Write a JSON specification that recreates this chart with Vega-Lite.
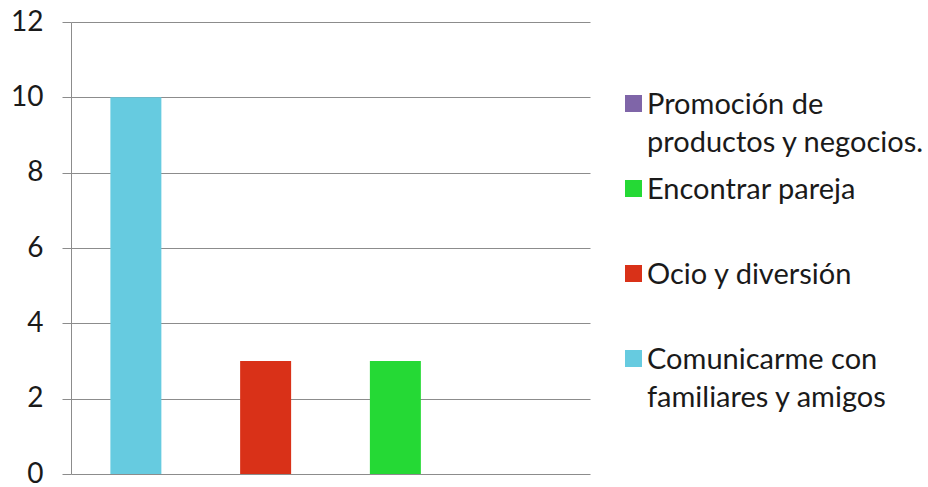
{
  "$schema": "https://vega.github.io/schema/vega-lite/v6.json",
  "width": 519,
  "height": 452,
  "autosize": {"type": "none"},
  "padding": {"left": 71, "top": 22, "right": 338, "bottom": 13},
  "background": "white",
  "config": {"view": {"stroke": null}, "font": "Lato"},
  "data": {
    "values": [
      {"cat": "Comunicarme con familiares y amigos", "valor": 10},
      {"cat": "Ocio y diversión", "valor": 3},
      {"cat": "Encontrar pareja", "valor": 3},
      {"cat": "Promoción de productos y negocios.", "valor": 0}
    ]
  },
  "mark": {"type": "bar"},
  "encoding": {
    "x": {
      "field": "cat",
      "type": "nominal",
      "sort": ["Comunicarme con familiares y amigos", "Ocio y diversión", "Encontrar pareja", "Promoción de productos y negocios."],
      "scale": {"paddingInner": 0.607, "paddingOuter": 0.3035},
      "axis": {"labels": false, "ticks": false, "title": null, "domain": false}
    },
    "y": {
      "field": "valor",
      "type": "quantitative",
      "scale": {"domain": [0, 12], "nice": false},
      "axis": {
        "title": null,
        "values": [0, 2, 4, 6, 8, 10, 12],
        "grid": true,
        "gridColor": "#8c8c8c",
        "gridOpacity": 1,
        "gridWidth": 1,
        "domainColor": "#8c8c8c",
        "tickColor": "#8c8c8c",
        "tickSize": 9,
        "labelFontSize": 28,
        "labelColor": "#1a1a1a",
        "labelPadding": 19,
        "labelFont": "Lato"
      }
    },
    "color": {
      "field": "cat",
      "type": "nominal",
      "scale": {
        "domain": ["Promoción de productos y negocios.", "Encontrar pareja", "Ocio y diversión", "Comunicarme con familiares y amigos"],
        "range": ["#7f65a8", "#25d935", "#d93118", "#66cbe0"]
      },
      "legend": {
        "title": null,
        "orient": "none",
        "legendX": 548,
        "legendY": 67,
        "gridAlign": "all",
        "symbolType": "square",
        "symbolSize": 289,
        "symbolStrokeWidth": 0,
        "labelFontSize": 29,
        "labelFont": "Lato",
        "labelColor": "#1a1a1a",
        "labelOffset": -1,
        "labelLimit": 400,
        "labelBaseline": "alphabetic",
        "labelExpr": "datum.label == 'Promoción de productos y negocios.' ? ['Promoción de', 'productos y negocios.'] : datum.label == 'Comunicarme con familiares y amigos' ? ['Comunicarme con', 'familiares y amigos'] : datum.label",
        "rowPadding": 16,
        "encode": {
          "labels": {"update": {"dy": {"value": 10}, "lineHeight": {"value": 38}}}
        }
      }
    }
  }
}
